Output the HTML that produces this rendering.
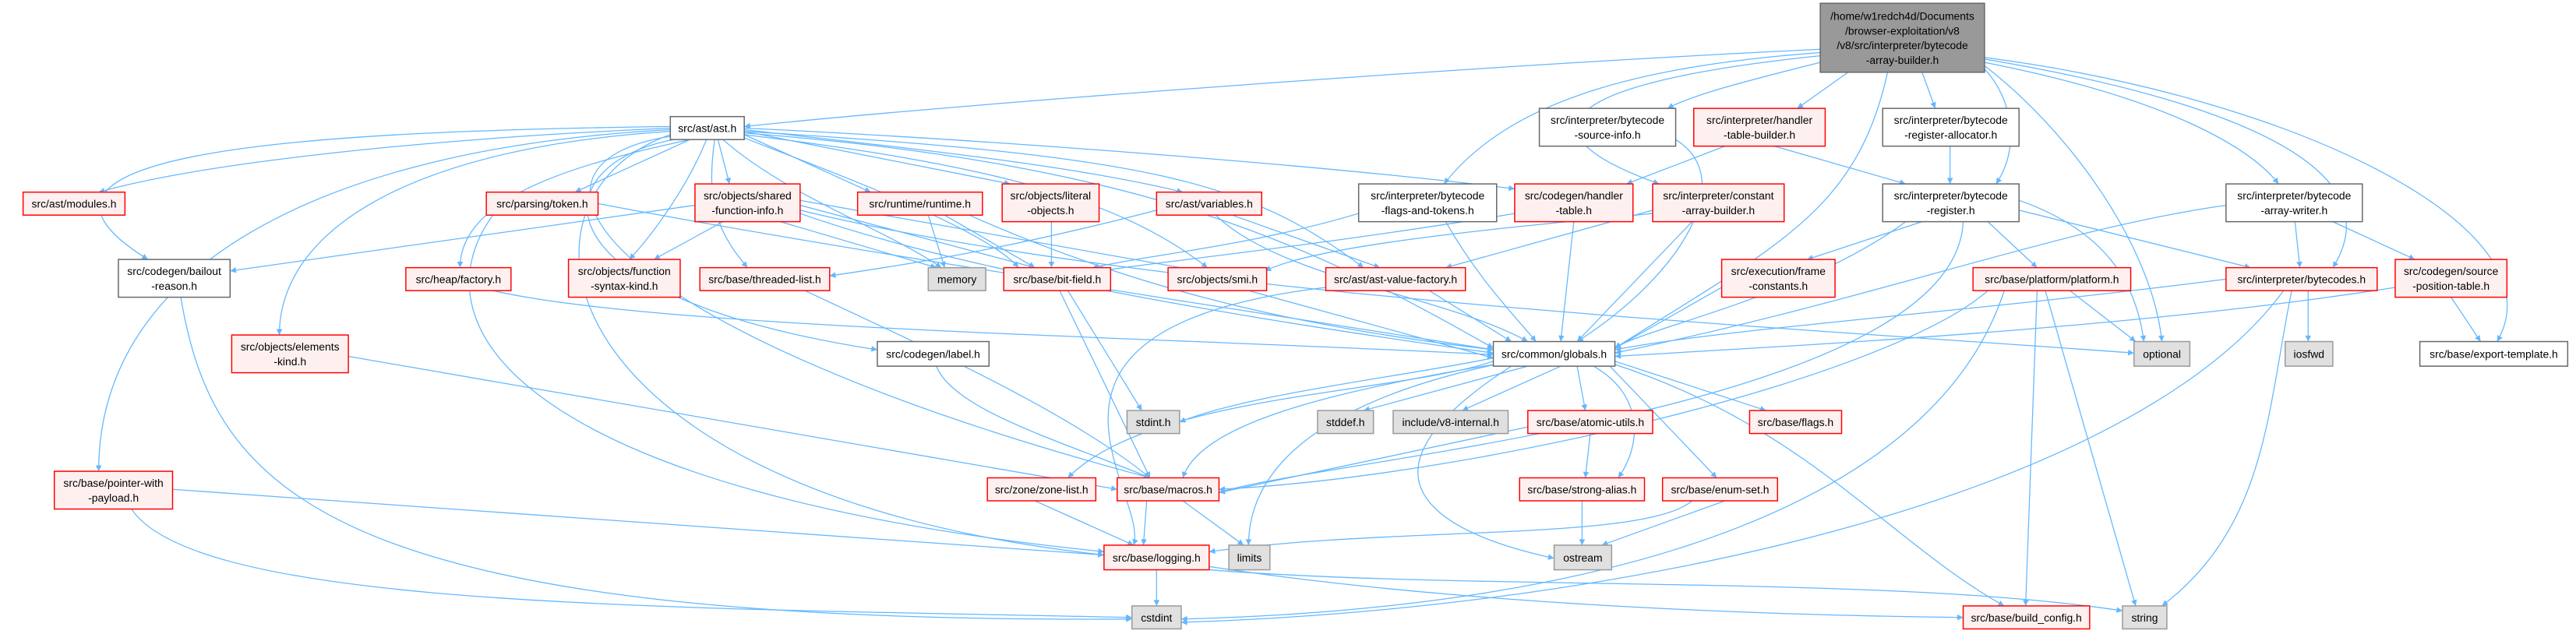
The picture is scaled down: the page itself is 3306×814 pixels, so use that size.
<!DOCTYPE html>
<html><head><meta charset="utf-8"><style>
html,body{margin:0;padding:0;background:#fff;width:3306px;height:814px;overflow:hidden}
svg{display:block}
text{font-family:"Liberation Sans","DejaVu Sans",sans-serif;font-size:6.6px;fill:#000;text-anchor:middle}
.e path{fill:none;stroke:#63b8ff;stroke-width:0.6}
.r{fill:#fff0f0;stroke:#ff0000;stroke-width:0.7}
.w{fill:#fff;stroke:#666;stroke-width:0.7}
.g{fill:#e0e0e0;stroke:#999;stroke-width:0.7}
.k{fill:#999;stroke:#666;stroke-width:0.7}
</style></head><body>
<svg width="3306" height="814" viewBox="0 0 1568 386.1" xmlns="http://www.w3.org/2000/svg">
<defs><marker id="a" viewBox="0 0 10 10" refX="10" refY="5" markerUnits="userSpaceOnUse" markerWidth="4.5" markerHeight="3.6" orient="auto"><path d="M0 0L10 5L0 10z" fill="#63b8ff"/></marker></defs>
<g class="e" marker-end="url(#a)">
<path d="M1108 30C900 40 600 62 453 77"/>
<path d="M1108 38C1060 50 1030 58 1015 66"/>
<path d="M1125 44L1094 66"/>
<path d="M1170 44L1178 66"/>
<path d="M1208 42C1225 60 1230 90 1215 112"/>
<path d="M1108 32C1000 40 920 60 879 112"/>
<path d="M1108 34C950 50 920 80 1010 112"/>
<path d="M1149 44C1130 130 1080 150 983 212"/>
<path d="M1208 40C1260 80 1310 150 1316 208"/>
<path d="M1208 38C1320 60 1370 90 1387 112"/>
<path d="M1208 36C1350 60 1460 100 1420 163"/>
<path d="M1208 35C1400 60 1560 140 1520 208"/>
<path d="M408 78C250 85 120 100 60 117"/>
<path d="M408 77C200 80 -20 90 90 158"/>
<path d="M420 85L350 117"/>
<path d="M420 85C350 100 280 120 280 163"/>
<path d="M430 85C420 110 400 140 383 158"/>
<path d="M437 85L444 112"/>
<path d="M435 85C430 120 435 140 455 163"/>
<path d="M453 82L530 117"/>
<path d="M453 80L615 112"/>
<path d="M453 79C550 90 650 100 720 117"/>
<path d="M453 78C600 85 800 100 922 115"/>
<path d="M440 85C480 120 540 140 573 163"/>
<path d="M453 84C520 110 600 140 620 163"/>
<path d="M453 82C600 100 680 120 735 163"/>
<path d="M453 80C700 95 760 110 830 163"/>
<path d="M453 81C700 100 800 150 909 212"/>
<path d="M408 80C250 90 170 140 170 204"/>
<path d="M408 79C200 90 60 160 60 287"/>
<path d="M410 85C330 100 320 180 534 213"/>
<path d="M408 83C300 100 360 200 700 291"/>
<path d="M408 82C300 120 330 300 672 338"/>
<path d="M364 124C500 150 700 180 909 213"/>
<path d="M300 131C250 200 320 300 672 336"/>
<path d="M423 125L140 165"/>
<path d="M440 135L398 158"/>
<path d="M487 125L630 163"/>
<path d="M487 122L730 165"/>
<path d="M487 130C600 170 800 200 909 215"/>
<path d="M475 135L570 163"/>
<path d="M487 128C700 180 1100 200 1299 215"/>
<path d="M110 181C130 300 200 380 689 377"/>
<path d="M300 177C400 200 700 205 909 216"/>
<path d="M490 177C560 210 650 250 700 291"/>
<path d="M565 131L575 163"/>
<path d="M575 131L630 163"/>
<path d="M590 131C700 180 800 200 909 213"/>
<path d="M640 135L640 163"/>
<path d="M704 128C620 150 560 160 505 168"/>
<path d="M750 131L840 163"/>
<path d="M740 131C780 170 880 180 930 208"/>
<path d="M827 130C760 150 700 155 665 163"/>
<path d="M880 135C900 170 920 190 935 208"/>
<path d="M922 130C800 150 700 160 670 165"/>
<path d="M958 135L950 208"/>
<path d="M1006 130C900 140 800 150 770 165"/>
<path d="M1006 128L880 163"/>
<path d="M1030 135L960 208"/>
<path d="M1020 85C1060 110 1020 170 960 208"/>
<path d="M1050 89L990 112"/>
<path d="M1080 89L1160 112"/>
<path d="M1187 89L1187 112"/>
<path d="M1170 135L1100 158"/>
<path d="M1210 135L1240 163"/>
<path d="M1229 128L1370 163"/>
<path d="M1160 135C1100 180 1000 200 983 212"/>
<path d="M1229 122C1280 140 1300 170 1305 208"/>
<path d="M1195 135C1190 250 800 280 742 300"/>
<path d="M1397 135L1400 163"/>
<path d="M1420 135L1470 158"/>
<path d="M1355 125C1250 140 1150 180 983 215"/>
<path d="M1048 175L983 212"/>
<path d="M1260 177L1300 208"/>
<path d="M1240 177L1233 369"/>
<path d="M1245 177L1300 369"/>
<path d="M1210 177C1150 230 900 290 742 298"/>
<path d="M1220 177C1180 300 1000 370 719 377"/>
<path d="M1355 170C1200 190 1050 200 983 213"/>
<path d="M1405 177L1405 208"/>
<path d="M1395 177C1380 250 1380 320 1316 369"/>
<path d="M1390 177C1300 300 1000 370 719 379"/>
<path d="M1492 181L1510 208"/>
<path d="M1458 175C1300 200 1100 210 983 217"/>
<path d="M650 177L695 250"/>
<path d="M645 177L700 291"/>
<path d="M760 177L909 218"/>
<path d="M870 177L920 208"/>
<path d="M807 175C600 200 700 300 690 332"/>
<path d="M909 218C850 230 760 240 718 257"/>
<path d="M930 223L830 250"/>
<path d="M950 223L890 250"/>
<path d="M960 223L965 250"/>
<path d="M983 220L1075 250"/>
<path d="M909 222C800 240 730 260 720 291"/>
<path d="M910 222C780 250 760 300 760 332"/>
<path d="M920 223C800 300 900 330 946 340"/>
<path d="M909 220C850 240 700 240 650 291"/>
<path d="M970 223C1000 240 1000 270 985 291"/>
<path d="M980 223L1045 291"/>
<path d="M983 222C1100 260 1150 330 1220 369"/>
<path d="M968 264L965 291"/>
<path d="M930 260L742 300"/>
<path d="M1050 305L975 332"/>
<path d="M1030 305C1000 330 850 320 736 336"/>
<path d="M630 305L690 332"/>
<path d="M698 305L696 332"/>
<path d="M720 305L757 332"/>
<path d="M963 305L963 332"/>
<path d="M704 347L704 369"/>
<path d="M736 345C900 370 1100 375 1195 376"/>
<path d="M736 347C900 360 1150 350 1292 372"/>
<path d="M570 223C580 250 650 270 700 291"/>
<path d="M212 217L680 298"/>
<path d="M105 298L672 338"/>
<path d="M80 310C120 370 400 370 689 376"/>
</g>
<g>
<rect class="k" x="1108" y="2" width="100" height="42"/>
<text x="1158" y="12">/home/w1redch4d/Documents</text><text x="1158" y="21">/browser-exploitation/v8</text><text x="1158" y="30">/v8/src/interpreter/bytecode</text><text x="1158" y="39">-array-builder.h</text>

<rect class="w" x="408" y="71" width="45" height="14"/><text x="430.5" y="80.5">src/ast/ast.h</text>
<rect class="r" x="14" y="117" width="62" height="14"/><text x="45" y="126.5">src/ast/modules.h</text>
<rect class="r" x="296" y="117" width="68" height="14"/><text x="330" y="126.5">src/parsing/token.h</text>
<rect class="r" x="423" y="112" width="64" height="23"/><text x="455" y="121.5">src/objects/shared</text><text x="455" y="130.5">-function-info.h</text>
<rect class="w" x="72" y="158" width="68" height="23"/><text x="106" y="167.5">src/codegen/bailout</text><text x="106" y="176.5">-reason.h</text>
<rect class="r" x="247" y="163" width="64" height="14"/><text x="279" y="172.5">src/heap/factory.h</text>
<rect class="r" x="346" y="158" width="68" height="23"/><text x="380" y="167.5">src/objects/function</text><text x="380" y="176.5">-syntax-kind.h</text>
<rect class="r" x="426" y="163" width="79" height="14"/><text x="465.5" y="172.5">src/base/threaded-list.h</text>
<rect class="r" x="522" y="117" width="76" height="14"/><text x="560" y="126.5">src/runtime/runtime.h</text>
<rect class="r" x="610" y="112" width="59" height="23"/><text x="639.5" y="121.5">src/objects/literal</text><text x="639.5" y="130.5">-objects.h</text>
<rect class="r" x="704" y="117" width="64" height="14"/><text x="736" y="126.5">src/ast/variables.h</text>
<rect class="w" x="827" y="112" width="84" height="23"/><text x="869" y="121.5">src/interpreter/bytecode</text><text x="869" y="130.5">-flags-and-tokens.h</text>
<rect class="r" x="922" y="112" width="72" height="23"/><text x="958" y="121.5">src/codegen/handler</text><text x="958" y="130.5">-table.h</text>
<rect class="r" x="1006" y="112" width="80" height="23"/><text x="1046" y="121.5">src/interpreter/constant</text><text x="1046" y="130.5">-array-builder.h</text>
<rect class="g" x="565" y="163" width="35" height="14"/><text x="582.5" y="172.5">memory</text>
<rect class="r" x="611" y="163" width="65" height="14"/><text x="643.5" y="172.5">src/base/bit-field.h</text>
<rect class="r" x="711" y="163" width="60" height="14"/><text x="741" y="172.5">src/objects/smi.h</text>
<rect class="r" x="807" y="163" width="85" height="14"/><text x="849.5" y="172.5">src/ast/ast-value-factory.h</text>
<rect class="w" x="937" y="66" width="83" height="23"/><text x="978.5" y="75.5">src/interpreter/bytecode</text><text x="978.5" y="84.5">-source-info.h</text>
<rect class="r" x="1031" y="66" width="80" height="23"/><text x="1071" y="75.5">src/interpreter/handler</text><text x="1071" y="84.5">-table-builder.h</text>
<rect class="w" x="1146" y="66" width="83" height="23"/><text x="1187.5" y="75.5">src/interpreter/bytecode</text><text x="1187.5" y="84.5">-register-allocator.h</text>
<rect class="w" x="1146" y="112" width="83" height="23"/><text x="1187.5" y="121.5">src/interpreter/bytecode</text><text x="1187.5" y="130.5">-register.h</text>
<rect class="w" x="1355" y="112" width="83" height="23"/><text x="1396.5" y="121.5">src/interpreter/bytecode</text><text x="1396.5" y="130.5">-array-writer.h</text>
<rect class="r" x="1048" y="158" width="69" height="23"/><text x="1082.5" y="167.5">src/execution/frame</text><text x="1082.5" y="176.5">-constants.h</text>
<rect class="r" x="1201" y="163" width="96" height="14"/><text x="1249" y="172.5">src/base/platform/platform.h</text>
<rect class="r" x="1355" y="163" width="92" height="14"/><text x="1401" y="172.5">src/interpreter/bytecodes.h</text>
<rect class="r" x="1458" y="158" width="68" height="23"/><text x="1492" y="167.5">src/codegen/source</text><text x="1492" y="176.5">-position-table.h</text>
<rect class="r" x="141" y="204" width="71" height="23"/><text x="176.5" y="213.5">src/objects/elements</text><text x="176.5" y="222.5">-kind.h</text>
<rect class="w" x="534" y="208" width="68" height="15"/><text x="568" y="218">src/codegen/label.h</text>
<rect class="w" x="909" y="208" width="74" height="15"/><text x="946" y="218">src/common/globals.h</text>
<rect class="g" x="1299" y="208" width="34" height="15"/><text x="1316" y="218">optional</text>
<rect class="g" x="1391" y="208" width="29" height="15"/><text x="1405.5" y="218">iosfwd</text>
<rect class="w" x="1473" y="208" width="90" height="15"/><text x="1518" y="218">src/base/export-template.h</text>
<rect class="g" x="686" y="250" width="32" height="14"/><text x="702" y="259.5">stdint.h</text>
<rect class="g" x="802" y="250" width="34" height="14"/><text x="819" y="259.5">stddef.h</text>
<rect class="g" x="848" y="250" width="70" height="14"/><text x="883" y="259.5">include/v8-internal.h</text>
<rect class="r" x="930" y="250" width="76" height="14"/><text x="968" y="259.5">src/base/atomic-utils.h</text>
<rect class="r" x="1065" y="250" width="56" height="14"/><text x="1093" y="259.5">src/base/flags.h</text>
<rect class="r" x="33" y="287" width="72" height="23"/><text x="69" y="296.5">src/base/pointer-with</text><text x="69" y="305.5">-payload.h</text>
<rect class="r" x="601" y="291" width="66" height="14"/><text x="634" y="300.5">src/zone/zone-list.h</text>
<rect class="r" x="680" y="291" width="62" height="14"/><text x="711" y="300.5">src/base/macros.h</text>
<rect class="r" x="925" y="291" width="76" height="14"/><text x="963" y="300.5">src/base/strong-alias.h</text>
<rect class="r" x="1012" y="291" width="70" height="14"/><text x="1047" y="300.5">src/base/enum-set.h</text>
<rect class="r" x="672" y="332" width="64" height="15"/><text x="704" y="342">src/base/logging.h</text>
<rect class="g" x="748" y="332" width="25" height="15"/><text x="760.5" y="342">limits</text>
<rect class="g" x="946" y="332" width="35" height="15"/><text x="963.5" y="342">ostream</text>
<rect class="g" x="689" y="369" width="30" height="14"/><text x="704" y="378.5">cstdint</text>
<rect class="r" x="1195" y="369" width="77" height="14"/><text x="1233.5" y="378.5">src/base/build_config.h</text>
<rect class="g" x="1292" y="369" width="27" height="14"/><text x="1305.5" y="378.5">string</text>
</g>
</svg>
</body></html>
